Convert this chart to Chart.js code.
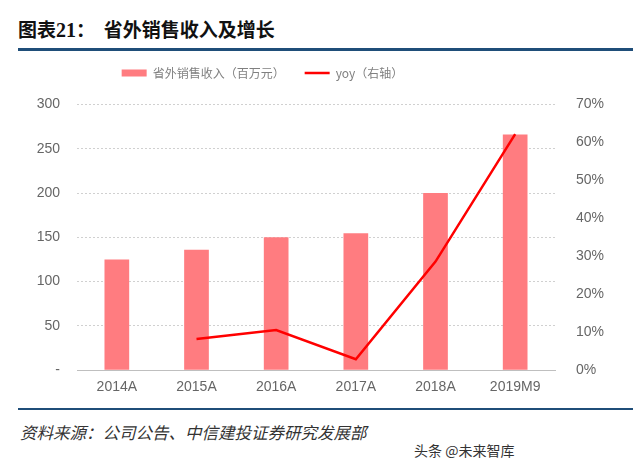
<!DOCTYPE html>
<html>
<head>
<meta charset="utf-8">
<script src="https://cdn.jsdelivr.net/npm/chart.js@4/dist/chart.umd.min.js"></script>
<style>
  body { margin: 0; background: #fff; width: 633px; height: 471px; position: relative; overflow: hidden; font-family: "Noto Sans CJK SC", sans-serif; }
  #title { position: absolute; left: 18px; top: 15px; font-size: 19px; font-weight: bold; color: #111; }
  #title .num { font-family: "Liberation Serif", serif; font-size: 20px; }
  #rule-top { position: absolute; left: 18px; right: 0; top: 48px; height: 3px; background: #1f4e79; }
  #rule-bottom { position: absolute; left: 18px; right: 0; top: 408px; height: 2px; background: #1f4e79; }
  #source { position: absolute; left: 20px; top: 420px; font-size: 16.5px; font-style: italic; color: #333; }
  #mark { position: absolute; left: 414px; top: 440px; font-size: 14px; color: #333; }
  #wrap { position: absolute; left: 0; top: 47px; width: 633px; height: 350px; }
</style>
</head>
<body>
<div id="title">图表<span class="num">21</span>：&nbsp;&nbsp;省外销售收入及增长</div>
<div id="rule-top"></div>
<div id="wrap"><canvas id="chart"></canvas></div>
<div id="rule-bottom"></div>
<div id="source">资料来源：公司公告、中信建投证券研究发展部</div>
<div id="mark">头条 @未来智库</div>
<script>
const categories = ['2014A', '2015A', '2016A', '2017A', '2018A', '2019M9'];
const revenue = [125, 136, 150, 154.5, 200, 266]; // 百万元
const yoy = [null, 8.2, 10.6, 2.9, 28.6, 62.2]; // %
const leftTicks = [0, 50, 100, 150, 200, 250, 300];
const rightTicks = [0, 10, 20, 30, 40, 50, 60, 70];

const tickFont = { family: 'Liberation Sans, Arial', size: 14 };

// legend sits a bit left of centre and leaves a gap above the plot
const legendTweak = {
    id: 'legendTweak',
    beforeLayout(chart) {
        const lg = chart.legend;
        if (lg && !lg._tweaked) {
            const fit = lg.fit;
            lg.fit = function () { fit.call(this); this.height += 15.5; };
            lg._tweaked = true;
        }
    },
    afterLayout(chart) {
        chart.legend.left -= 54;
        chart.legend.right -= 54;
    }
};

const ctx = document.getElementById('chart').getContext('2d');
new Chart(ctx, {
    type: 'bar',
    data: {
        labels: categories,
        datasets: [
            {
                type: 'bar',
                label: '省外销售收入（百万元）',
                data: revenue,
                backgroundColor: '#ff7c80',
                borderWidth: 0,
                barPercentage: 0.62,
                categoryPercentage: 0.5,
                pointStyle: 'rect',
                yAxisID: 'y',
                order: 2
            },
            {
                type: 'line',
                label: 'yoy（右轴）',
                data: yoy,
                borderColor: '#ff0000',
                backgroundColor: '#ff0000',
                borderWidth: 2.5,
                pointRadius: 0,
                pointStyle: 'line',
                tension: 0,
                yAxisID: 'y1',
                order: 1
            }
        ]
    },
    plugins: [legendTweak],
    options: {
        responsive: true,
        maintainAspectRatio: false,
        animation: false,
        plugins: {
            legend: {
                labels: {
                    usePointStyle: true,
                    pointStyleWidth: 25,
                    boxHeight: 7,
                    padding: 20,
                    color: '#808080',
                    font: { family: 'Noto Sans CJK SC', size: 12 },
                    sort: (a, b) => a.datasetIndex - b.datasetIndex
                }
            },
            tooltip: { enabled: false }
        },
        scales: {
            x: {
                grid: { display: false },
                border: { color: '#bfbfbf', width: 1 },
                ticks: { color: '#666', font: tickFont, padding: 1 }
            },
            y: {
                position: 'left',
                min: 0,
                max: 300,
                afterBuildTicks: (axis) => { axis.ticks = leftTicks.map(v => ({ value: v })); },
                afterFit: (axis) => { axis.width = 77; },
                grid: { color: '#d0d0d0', drawTicks: false },
                border: { display: false, dash: [2, 2] },
                ticks: {
                    color: '#666',
                    font: tickFont,
                    padding: 17,
                    callback: (v) => v === 0 ? '-' : v
                }
            },
            y1: {
                position: 'right',
                min: 0,
                max: 70,
                afterBuildTicks: (axis) => { axis.ticks = rightTicks.map(v => ({ value: v })); },
                afterFit: (axis) => { axis.width = 78; },
                grid: { display: false },
                border: { display: false },
                ticks: {
                    color: '#666',
                    font: tickFont,
                    padding: 13,
                    callback: (v) => v + '%'
                }
            }
        }
    }
});
</script>
</body>
</html>
